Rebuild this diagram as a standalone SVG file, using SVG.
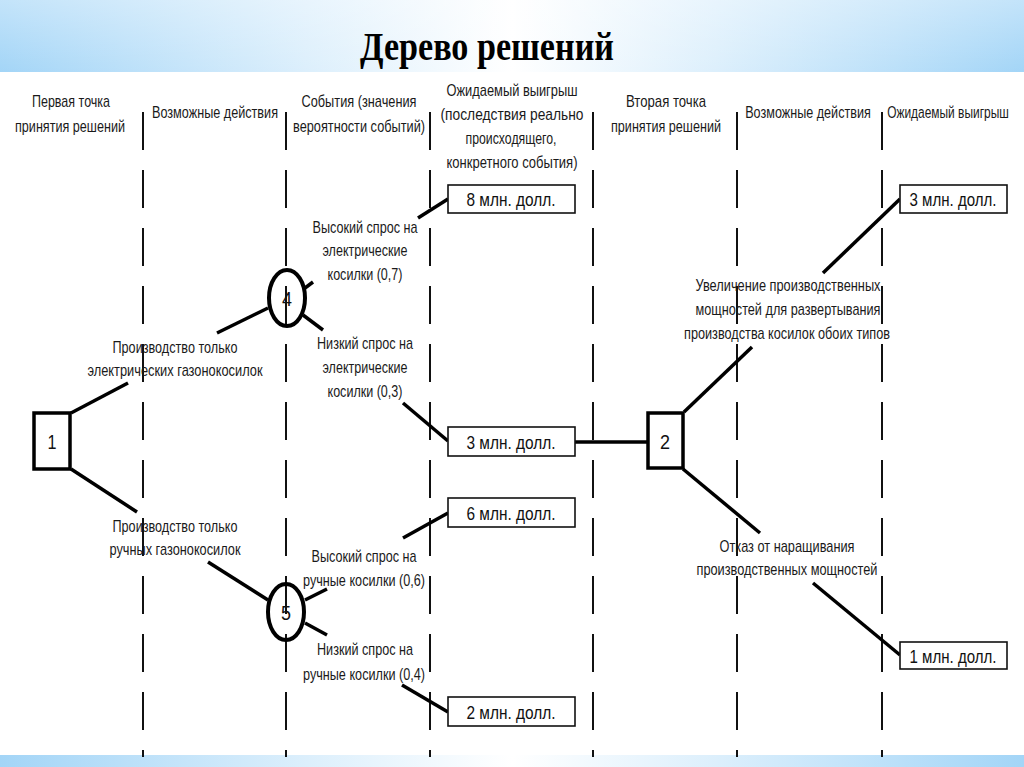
<svg xmlns="http://www.w3.org/2000/svg" width="1024" height="767" viewBox="0 0 1024 767">
  <defs>
    <linearGradient id="band" x1="0" y1="0" x2="1" y2="0">
      <stop offset="0" stop-color="#a3d5f7"/>
      <stop offset="0.3" stop-color="#dceffc"/>
      <stop offset="0.5" stop-color="#ffffff"/>
      <stop offset="0.7" stop-color="#dceffc"/>
      <stop offset="1" stop-color="#a3d5f7"/>
    </linearGradient>
    <linearGradient id="bandTop" x1="0" y1="0" x2="0" y2="1">
      <stop offset="0" stop-color="#ffffff" stop-opacity="0.35"/>
      <stop offset="1" stop-color="#ffffff" stop-opacity="0"/>
    </linearGradient>
  </defs>
  <style>
    .t { font-family: "Liberation Sans", Arial, sans-serif; font-size: 17px; fill: #1a1a1a; text-anchor: middle; }
    .v { font-family: "Liberation Sans", Arial, sans-serif; font-size: 19px; fill: #111; text-anchor: middle; }
    .n { font-family: "Liberation Sans", Arial, sans-serif; font-size: 20px; fill: #111; text-anchor: middle; }
    .title { font-family: "Liberation Serif", "Times New Roman", serif; font-size: 39px; font-weight: bold; fill: #000; text-anchor: middle; }
    .dash { stroke: #111; stroke-width: 2; stroke-dasharray: 38 20; fill: none; }
    .c { stroke: #000; stroke-width: 3.5; fill: none; stroke-linecap: butt; }
    .box { fill: #fff; stroke: #111; stroke-width: 1.6; }
    .dec { fill: #fff; stroke: #000; stroke-width: 3.5; }
    .chance { fill: none; stroke: #000; stroke-width: 4; }
  </style>

  <!-- background -->
  <rect x="0" y="0" width="1024" height="767" fill="#ffffff"/>
  <rect x="0" y="0" width="1024" height="72" fill="url(#band)"/>
  <rect x="0" y="0" width="1024" height="72" fill="url(#bandTop)"/>
  <rect x="0" y="755" width="1024" height="12" fill="url(#band)"/>

  <text class="title" x="487" y="60" textLength="254" lengthAdjust="spacingAndGlyphs">Дерево решений</text>

  <!-- column separators -->
  <g id="columns">
    <line class="dash" x1="143" y1="112" x2="143" y2="757"/>
    <line class="dash" x1="286" y1="112" x2="286" y2="757"/>
    <line class="dash" x1="430" y1="112" x2="430" y2="757"/>
    <line class="dash" x1="593" y1="112" x2="593" y2="757"/>
    <line class="dash" x1="737" y1="112" x2="737" y2="757"/>
    <line class="dash" x1="882" y1="112" x2="882" y2="757"/>
  </g>

  <!-- column headers -->
  <g id="headers">
    <text class="t" x="71" y="107" textLength="78" lengthAdjust="spacingAndGlyphs">Первая точка</text>
    <text class="t" x="70" y="132" textLength="110" lengthAdjust="spacingAndGlyphs">принятия решений</text>
    <text class="t" x="215" y="118" textLength="126" lengthAdjust="spacingAndGlyphs">Возможные действия</text>
    <text class="t" x="359" y="107" textLength="115" lengthAdjust="spacingAndGlyphs">События (значения</text>
    <text class="t" x="359" y="132" textLength="132" lengthAdjust="spacingAndGlyphs">вероятности событий)</text>
    <text class="t" x="512" y="96" textLength="131" lengthAdjust="spacingAndGlyphs">Ожидаемый выигрыш</text>
    <text class="t" x="512" y="120" textLength="143" lengthAdjust="spacingAndGlyphs">(последствия реально</text>
    <text class="t" x="511" y="144" textLength="91" lengthAdjust="spacingAndGlyphs">происходящего,</text>
    <text class="t" x="512" y="168" textLength="131" lengthAdjust="spacingAndGlyphs">конкретного события)</text>
    <text class="t" x="666" y="107" textLength="80" lengthAdjust="spacingAndGlyphs">Вторая точка</text>
    <text class="t" x="666" y="132" textLength="110" lengthAdjust="spacingAndGlyphs">принятия решений</text>
    <text class="t" transform="translate(808,118) scale(0.78,1)" x="0" y="0" textLength="161" lengthAdjust="spacingAndGlyphs">Возможные действия</text>
    <text class="t" transform="translate(948,118) scale(0.76,1)" x="0" y="0" textLength="160" lengthAdjust="spacingAndGlyphs">Ожидаемый выигрыш</text>
  </g>

  <!-- connectors -->
  <g id="connectors">
    <line class="c" x1="71" y1="413" x2="128" y2="383"/>
    <line class="c" x1="217" y1="333" x2="268" y2="308"/>
    <line class="c" x1="71" y1="469" x2="137" y2="512"/>
    <line class="c" x1="208" y1="562" x2="268" y2="600"/>
    <line class="c" x1="305" y1="288" x2="313" y2="282"/>
    <line class="c" x1="303" y1="315" x2="323" y2="330"/>
    <line class="c" x1="418" y1="218" x2="448" y2="199"/>
    <line class="c" x1="403" y1="403" x2="448" y2="441"/>
    <line class="c" x1="305" y1="600" x2="327" y2="589"/>
    <line class="c" x1="305" y1="623" x2="327" y2="635"/>
    <line class="c" x1="403" y1="538" x2="448" y2="513"/>
    <line class="c" x1="402" y1="685" x2="448" y2="712"/>
    <line class="c" x1="575" y1="442" x2="647" y2="442"/>
    <line class="c" x1="684" y1="412" x2="752" y2="347"/>
    <line class="c" x1="823" y1="273" x2="900" y2="199"/>
    <line class="c" x1="683" y1="469" x2="760" y2="533"/>
    <line class="c" x1="813" y1="583" x2="900" y2="655"/>
  </g>

  <!-- decision node 1 -->
  <g id="node-1">
    <rect class="dec" x="34" y="413" width="36" height="56"/>
    <text class="n" x="52" y="449" textLength="9" lengthAdjust="spacingAndGlyphs">1</text>
  </g>

  <!-- decision node 2 -->
  <g id="node-2">
    <rect class="dec" x="648" y="413" width="35" height="55" stroke-width="4"/>
    <text class="n" x="665" y="449" textLength="10" lengthAdjust="spacingAndGlyphs">2</text>
  </g>

  <!-- chance node 4 -->
  <g id="node-4">
    <ellipse class="chance" cx="287" cy="298" rx="18" ry="28"/>
    <text class="n" x="287" y="306" textLength="10" lengthAdjust="spacingAndGlyphs">4</text>
  </g>

  <!-- chance node 5 -->
  <g id="node-5">
    <ellipse class="chance" cx="286" cy="612" rx="18" ry="28"/>
    <text class="n" x="286" y="620" textLength="10" lengthAdjust="spacingAndGlyphs">5</text>
  </g>

  <!-- payoff boxes -->
  <g id="payoff-8">
    <rect class="box" x="448" y="185" width="127" height="28"/>
    <text class="v" x="511" y="206" textLength="89" lengthAdjust="spacingAndGlyphs">8 млн. долл.</text>
  </g>
  <g id="payoff-3a">
    <rect class="box" x="448" y="427" width="127" height="29"/>
    <text class="v" x="511" y="449" textLength="89" lengthAdjust="spacingAndGlyphs">3 млн. долл.</text>
  </g>
  <g id="payoff-6">
    <rect class="box" x="448" y="498" width="127" height="29"/>
    <text class="v" x="511" y="520" textLength="89" lengthAdjust="spacingAndGlyphs">6 млн. долл.</text>
  </g>
  <g id="payoff-2">
    <rect class="box" x="448" y="697" width="127" height="29"/>
    <text class="v" x="511" y="719" textLength="89" lengthAdjust="spacingAndGlyphs">2 млн. долл.</text>
  </g>
  <g id="payoff-3b">
    <rect class="box" x="900" y="185" width="107" height="28"/>
    <text class="v" x="953" y="206" textLength="87" lengthAdjust="spacingAndGlyphs">3 млн. долл.</text>
  </g>
  <g id="payoff-1">
    <rect class="box" x="900" y="642" width="107" height="27"/>
    <text class="v" x="953" y="663" textLength="87" lengthAdjust="spacingAndGlyphs">1 млн. долл.</text>
  </g>

  <!-- branch labels -->
  <g id="labels">
    <text class="t" x="175" y="353" textLength="125" lengthAdjust="spacingAndGlyphs">Производство только</text>
    <text class="t" x="175" y="376" textLength="175" lengthAdjust="spacingAndGlyphs">электрических газонокосилок</text>
    <text class="t" x="175" y="532" textLength="125" lengthAdjust="spacingAndGlyphs">Производство только</text>
    <text class="t" x="175" y="555" textLength="131" lengthAdjust="spacingAndGlyphs">ручных газонокосилок</text>

    <text class="t" x="365" y="233" textLength="105" lengthAdjust="spacingAndGlyphs">Высокий спрос на</text>
    <text class="t" x="365" y="256" textLength="85" lengthAdjust="spacingAndGlyphs">электрические</text>
    <text class="t" x="365" y="280" textLength="75" lengthAdjust="spacingAndGlyphs">косилки (0,7)</text>
    <text class="t" x="365" y="349" textLength="96" lengthAdjust="spacingAndGlyphs">Низкий спрос на</text>
    <text class="t" x="365" y="373" textLength="85" lengthAdjust="spacingAndGlyphs">электрические</text>
    <text class="t" x="365" y="397" textLength="75" lengthAdjust="spacingAndGlyphs">косилки (0,3)</text>

    <text class="t" x="364" y="562" textLength="105" lengthAdjust="spacingAndGlyphs">Высокий спрос на</text>
    <text class="t" x="364" y="586" textLength="122" lengthAdjust="spacingAndGlyphs">ручные косилки (0,6)</text>
    <text class="t" x="365" y="655" textLength="96" lengthAdjust="spacingAndGlyphs">Низкий спрос на</text>
    <text class="t" x="364" y="680" textLength="122" lengthAdjust="spacingAndGlyphs">ручные косилки (0,4)</text>

    <text class="t" x="788" y="291" textLength="185" lengthAdjust="spacingAndGlyphs">Увеличение производственных</text>
    <text class="t" x="788" y="315" textLength="185" lengthAdjust="spacingAndGlyphs">мощностей для развертывания</text>
    <text class="t" x="787" y="339" textLength="206" lengthAdjust="spacingAndGlyphs">производства косилок обоих типов</text>
    <text class="t" x="787" y="552" textLength="135" lengthAdjust="spacingAndGlyphs">Отказ от наращивания</text>
    <text class="t" x="787" y="575" textLength="181" lengthAdjust="spacingAndGlyphs">производственных мощностей</text>
  </g>
</svg>
